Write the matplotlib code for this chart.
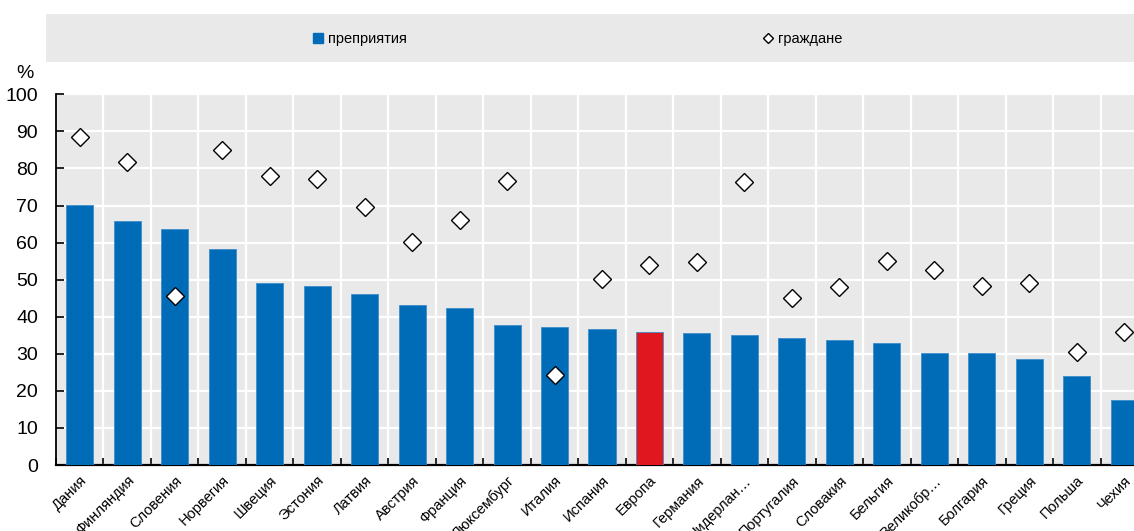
import matplotlib
matplotlib.use("Agg")
import matplotlib.pyplot as plt
from matplotlib.lines import Line2D
from matplotlib.patches import Rectangle
import numpy as np

plt.rcParams['font.family'] = ['Liberation Sans', 'DejaVu Sans']

categories = ["Дания", "Финляндия", "Словения", "Норвегия", "Швеция", "Эстония",
              "Латвия", "Австрия", "Франция", "Люксембург", "Италия", "Испания",
              "Европа", "Германия", "Нидерлан…", "Португалия", "Словакия", "Бельгия",
              "Великобр…", "Болгария", "Греция", "Польша", "Чехия"]
enterprises = [70.2, 65.8, 63.6, 58.3, 49.2, 48.2, 46.2, 43.1, 42.3, 37.9, 37.1, 36.6,
               35.8, 35.5, 35.0, 34.2, 33.6, 33.0, 30.3, 30.1, 28.5, 24.1, 17.4]
citizens = [88.6, 81.8, 45.5, 85.1, 78.0, 77.1, 69.7, 60.2, 66.0, 76.6, 24.2, 50.1,
            53.9, 54.7, 76.3, 45.0, 48.0, 55.0, 52.7, 48.2, 49.0, 30.4, 36.0]
highlight = "Европа"
yticks = [0, 10, 20, 30, 40, 50, 60, 70, 80, 90, 100]

BLUE = "#006BB6"
RED = "#E0171F"
BG = "#E9E9E9"

fig = plt.figure(figsize=(11.34, 5.31), dpi=100)
ax = fig.add_axes([56/1134, 1-465/531, (1148-56)/1134, (465-94.3)/531])
ax.set_facecolor(BG)

x = np.arange(len(categories))
colors = [RED if c == highlight else BLUE for c in categories]
ax.bar(x, enterprises, width=0.57, color=colors, edgecolor="#3C8DCB", linewidth=0.6, zorder=3)
ax.plot(x, citizens, linestyle="none", marker="D", markersize=9.5,
        markerfacecolor="white", markeredgecolor="black", markeredgewidth=1.0, zorder=4)

ax.set_xlim(-0.5, len(categories) - 0.5)
ax.set_ylim(0, 100)
ax.set_yticks(yticks)
ax.set_yticklabels([str(t) for t in yticks], fontsize=14)

ax.set_xticks(x)
ax.set_xticklabels(categories, rotation=45, ha="right", rotation_mode="anchor", fontsize=10.5)
ax.set_xticks(np.arange(len(categories) + 1) - 0.5, minor=True)
ax.tick_params(axis="x", which="major", length=0, pad=6)
ax.tick_params(axis="x", which="minor", length=5, width=1.2, direction="in", color="black")
ax.tick_params(axis="y", length=6, width=1.2, direction="in", color="black", pad=13)

ax.grid(axis="y", color="white", linewidth=1.6, zorder=0)
ax.grid(axis="x", which="minor", color="white", linewidth=1.6, zorder=0)
ax.set_axisbelow(True)

for s in ["top", "right"]:
    ax.spines[s].set_visible(False)
ax.spines["left"].set_linewidth(1.3)
ax.spines["bottom"].set_linewidth(1.6)

fig.text(25/1134, 1-74/531, "%", fontsize=14, ha="center", va="center")

# legend band
fig.patches.append(Rectangle((46/1134, 1-62/531), 1 - 46/1134, 48/531,
                             transform=fig.transFigure, facecolor=BG, edgecolor="none", zorder=0))
h1 = Line2D([], [], linestyle="none", marker="s", markersize=6.5, markerfacecolor=BLUE, markeredgecolor=BLUE)
h2 = Line2D([], [], linestyle="none", marker="D", markersize=5, markerfacecolor="white",
            markeredgecolor="black", markeredgewidth=1.0)
fig.legend([h1], ["преприятия"], loc="center left", bbox_to_anchor=(302/1134, 1-39/531),
           frameon=False, fontsize=10.5, handletextpad=0.1, handlelength=1.2, borderpad=0)
fig.legend([h2], ["граждане"], loc="center left", bbox_to_anchor=(752/1134, 1-39/531),
           frameon=False, fontsize=10.5, handletextpad=0.1, handlelength=1.2, borderpad=0)

fig.savefig("out.png", dpi=100)
